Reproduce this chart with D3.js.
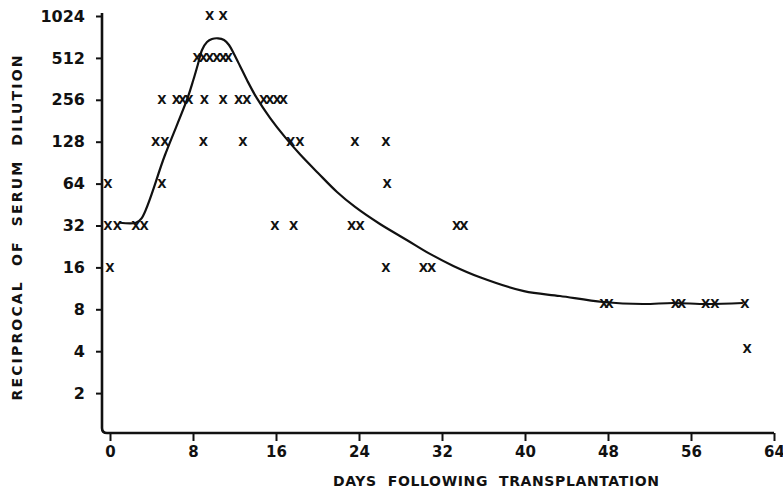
<!DOCTYPE html>
<html>
<head>
<meta charset="utf-8">
<script src="https://cdnjs.cloudflare.com/ajax/libs/d3/7.8.5/d3.min.js"></script>
<style>
  html, body { margin: 0; padding: 0; background: #fff; }
  text { font-family: "DejaVu Sans", sans-serif; font-weight: bold; fill: #111; }
</style>
</head>
<body>
<div id="chart_div"></div>
<script>
// tick values
const xTicks = [0, 8, 16, 24, 32, 40, 48, 56, 64];
const yTicks = [2, 4, 8, 16, 32, 64, 128, 256, 512, 1024];

// observed titers, one row of days per dilution level
const titerLevels = [1024, 512, 256, 128, 64, 32, 16, 8.8, 4.2];
const daysAtLevel = [
  [9.6, 10.9],
  [8.4, 9.0, 9.6, 10.3, 10.9, 11.4],
  [5.0, 6.4, 7.0, 7.6, 9.1, 10.9, 12.4, 13.2, 14.8, 15.4, 16.1, 16.7],
  [4.4, 5.3, 9.0, 12.8, 17.4, 18.3, 23.6, 26.6],
  [-0.2, 5.0, 26.7],
  [-0.2, 0.7, 2.5, 3.3, 15.9, 17.7, 23.3, 24.1, 33.4, 34.1],
  [0.0, 26.6, 30.2, 31.0],
  [47.6, 48.1, 54.5, 55.1, 57.4, 58.3, 61.2],
  [61.4]
];

// hand drawn mean curve
const curveDays = [0.96, 2.5, 3.06, 5.3, 7.48, 8.03, 8.48, 8.87, 9.35,
  9.83, 10.41, 10.99, 11.47, 11.95, 12.53, 13.2, 14.14, 15.42, 16.87, 18.31, 20.05, 21.88,
  23.62, 26.02, 28.6, 30.84, 33.09, 35.66, 39.9, 43.37, 47.5, 51.36, 54.27, 57.54, 61.0];
const curveTiters = [33.5, 33.5, 36.2, 102.7, 264, 355, 463, 584, 666,
  700, 708, 689, 634, 546, 448, 355, 264, 190, 138, 104, 76.3, 55.7,
  43.5, 32.8, 25.2, 20.0, 16.4, 13.6, 10.8, 9.97, 9.03, 8.73, 8.88, 8.73, 8.88];

const width = 783;
const height = 492;

const x = d3.scaleLinear().domain([0, 64]).range([110, 774]);
const y = d3.scaleLog().base(2).domain([1, 1024]).range([435, 16]);

const svg = d3.select("#chart_div").append("svg")
  .attr("width", width)
  .attr("height", height)
  .attr("viewBox", [0, 0, width, height]);

// axis frame (L shape with rounded corner)
const frameLeft = x(0) - 8;
const frameBottom = y(1) - 2;
const frameTop = y(1024) - 3;
const frameRight = x(64);
svg.append("path")
  .attr("d", `M${frameLeft},${frameTop} V${frameBottom - 5} Q${frameLeft},${frameBottom} ${frameLeft + 5},${frameBottom} H${frameRight}`)
  .attr("fill", "none")
  .attr("stroke", "#111")
  .attr("stroke-width", 2.6);

// y axis
const gy = svg.append("g")
  .attr("transform", `translate(${frameLeft},0)`)
  .call(d3.axisLeft(y).tickValues(yTicks).tickFormat(d3.format("d")).tickSize(6).tickPadding(11));
gy.select(".domain").remove();
gy.selectAll(".tick line").attr("stroke", "#111").attr("stroke-width", 2);
gy.selectAll(".tick text").attr("font-size", 16).attr("font-family", null);

// x axis
const gx = svg.append("g")
  .attr("transform", `translate(0,${frameBottom})`)
  .call(d3.axisBottom(x).tickValues(xTicks).tickSize(8).tickPadding(5));
gx.select(".domain").remove();
gx.selectAll(".tick line").attr("stroke", "#111").attr("stroke-width", 2);
gx.selectAll(".tick text").attr("font-size", 15).attr("font-family", null);

// titles
svg.append("text")
  .attr("x", 496)
  .attr("y", 486)
  .attr("text-anchor", "middle")
  .attr("font-size", 14)
  .attr("textLength", 326)
  .attr("lengthAdjust", "spacing")
  .style("white-space", "pre")
  .text("DAYS  FOLLOWING  TRANSPLANTATION");

svg.append("text")
  .attr("transform", "translate(22,228) rotate(-90)")
  .attr("text-anchor", "middle")
  .attr("font-size", 14)
  .attr("textLength", 345)
  .attr("lengthAdjust", "spacing")
  .style("white-space", "pre")
  .text("RECIPROCAL  OF  SERUM  DILUTION");

// curve
const line = d3.line()
  .x(d => x(d[0]))
  .y(d => y(d[1]))
  .curve(d3.curveCatmullRom.alpha(0.5));

svg.append("path")
  .datum(d3.zip(curveDays, curveTiters))
  .attr("d", line)
  .attr("fill", "none")
  .attr("stroke", "#111")
  .attr("stroke-width", 2.2);

// markers
const points = titerLevels.flatMap((t, i) => daysAtLevel[i].map(d => ({ day: d, titer: t })));
svg.append("g")
  .selectAll("text")
  .data(points)
  .join("text")
  .attr("x", d => x(d.day))
  .attr("y", d => y(d.titer))
  .attr("dy", "0.36em")
  .attr("text-anchor", "middle")
  .attr("font-size", 12)
  .attr("font-family", "'DejaVu Sans Condensed', sans-serif")
  .text("X");
</script>
</body>
</html>
